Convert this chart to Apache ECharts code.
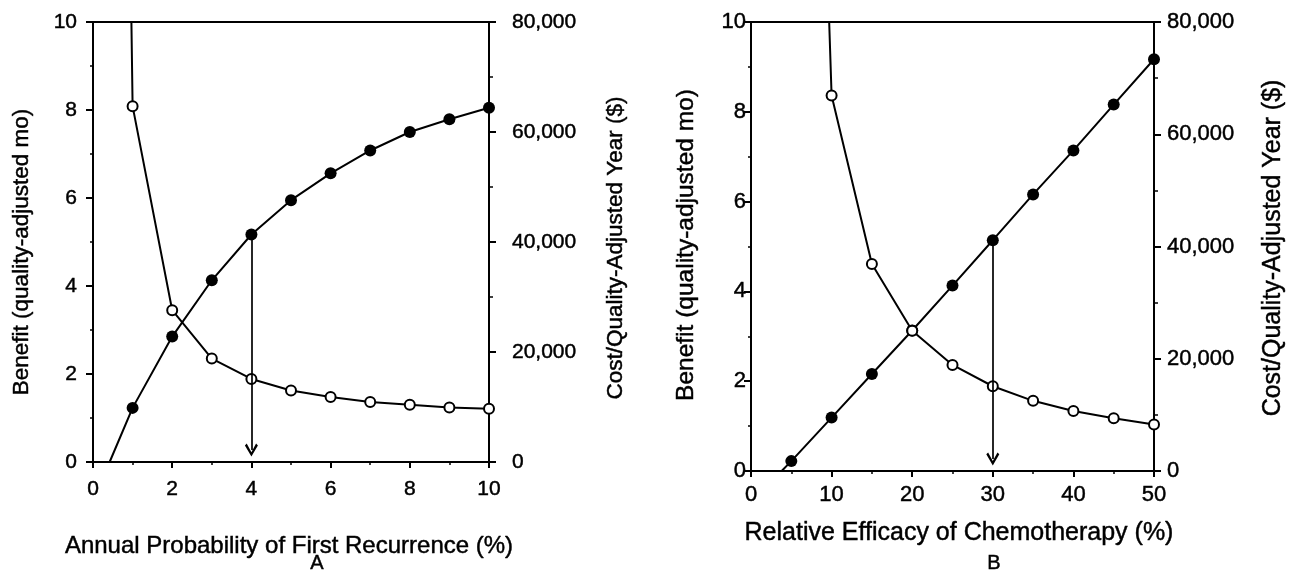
<!DOCTYPE html>
<html>
<head>
<meta charset="utf-8">
<script src="https://cdn.jsdelivr.net/npm/echarts@6/dist/echarts.min.js"></script>
<style>
html,body{margin:0;padding:0;background:#fff;}
#chart{width:1292px;height:572px;}
</style>
</head>
<body>
<div id="chart"></div>
<script>
// ---------- Data ----------
// Panel A: Annual probability of first recurrence (%)
var xA = [1, 2, 3, 4, 5, 6, 7, 8, 9, 10];
var benefitA = [1.23, 2.85, 4.13, 5.17, 5.95, 6.56, 7.08, 7.50, 7.79, 8.05];      // quality-adjusted mo
var costA = [64700, 27600, 18800, 15100, 13000, 11800, 10900, 10400, 9900, 9700]; // $ per QALY
var benefitAStart = [0.42, 0];      // where the benefit line leaves the x axis
var costALead = [0.97, 80000];      // cost line runs off the top of the scale
var arrowXA = 4;

// Panel B: Relative efficacy of chemotherapy (%)
var xB = [5, 10, 15, 20, 25, 30, 35, 40, 45, 50];
var benefitB = [0.22, 1.19, 2.16, 3.13, 4.13, 5.14, 6.16, 7.14, 8.16, 9.17];
var xBcost = [10, 15, 20, 25, 30, 35, 40, 45, 50];
var costB = [66900, 36900, 25000, 18900, 15100, 12500, 10700, 9400, 8300];
var benefitBStart = [3.8, 0];
var costBLead = [9.7, 80000];
var arrowXB = 30;
var arrowTipValue = 0.27;

var titleX_A = 'Annual Probability of First Recurrence (%)';
var titleX_B = 'Relative Efficacy of Chemotherapy (%)';
var titleYL = 'Benefit (quality-adjusted mo)';
var titleYR = 'Cost/Quality-Adjusted Year ($)';
var panelLabels = ['A', 'B'];

// ---------- Helpers ----------
var FONT = 'Liberation Sans, Arial, Helvetica, sans-serif';
var TB = 0.45; // slight text stroke to match the heavier scanned type
function commas(v) { return String(v).replace(/\B(?=(\d{3})+(?!\d))/g, ','); }
function zip(xs, ys) { return xs.map(function (x, i) { return [x, ys[i]]; }); }
var arrowPath = 'path://M50,0 L100,86 L86,100 L50,34 L14,100 L0,86 Z';

function leadData(first, xs, ys) {
  return [{ value: first, symbol: 'none' }].concat(zip(xs, ys));
}
function valueAt(xs, ys, x) { return ys[xs.indexOf(x)]; }
function labelStyle(size, margin, fmt) {
  var s = { fontFamily: FONT, fontSize: size, color: '#000', margin: margin,
            textBorderColor: '#000', textBorderWidth: TB };
  if (fmt) s.formatter = fmt;
  return s;
}
var tickStyle = { color: '#000', width: 2 };
var minorStyle = { color: '#000', width: 1.5 };

function xAxisCfg(gi, max, interval, size, margin) {
  return {
    gridIndex: gi, type: 'value', min: 0, max: max, interval: interval,
    axisLine: { show: true, onZero: false, lineStyle: { color: '#000', width: 2 } },
    axisTick: { show: true, length: 6, lineStyle: tickStyle },
    minorTick: { show: true, splitNumber: 2, length: 3, lineStyle: minorStyle },
    axisLabel: labelStyle(size, margin),
    splitLine: { show: false }
  };
}
function yLeftCfg(gi, size, margin) {
  return {
    gridIndex: gi, type: 'value', position: 'left', min: 0, max: 10, interval: 2,
    axisLine: { show: true, onZero: false, lineStyle: { color: '#000', width: 2 } },
    axisTick: { show: true, length: 7, lineStyle: tickStyle },
    minorTick: { show: true, splitNumber: 2, length: 3, lineStyle: minorStyle },
    axisLabel: labelStyle(size, margin),
    splitLine: { show: false }
  };
}
function yRightCfg(gi, size, margin) {
  return {
    gridIndex: gi, type: 'value', position: 'right', min: 0, max: 80000, interval: 20000,
    axisLine: { show: true, onZero: false, lineStyle: { color: '#000', width: 2 } },
    axisTick: { show: true, length: 7, lineStyle: tickStyle },
    minorTick: { show: true, splitNumber: 2, length: 4, lineStyle: minorStyle },
    axisLabel: labelStyle(size, margin, commas),
    splitLine: { show: false }
  };
}
function arrowMark(x, y0) {
  return {
    silent: true, animation: false,
    symbol: ['none', arrowPath], symbolSize: [13, 13],
    label: { show: false },
    emphasis: { disabled: true },
    lineStyle: { color: '#000', width: 1.7, type: 'solid' },
    itemStyle: { color: '#000' },
    data: [[{ coord: [x, y0] }, { coord: [x, arrowTipValue] }]]
  };
}
var filledStyle = {
  type: 'line', symbol: 'circle', symbolSize: 12, showSymbol: true,
  lineStyle: { color: '#000', width: 2 }, itemStyle: { color: '#000' },
  z: 3, animation: false
};
var openStyle = {
  type: 'line', symbol: 'circle', symbolSize: 10, showSymbol: true,
  lineStyle: { color: '#000', width: 2 },
  itemStyle: { color: '#fff', borderColor: '#000', borderWidth: 2 },
  z: 4, animation: false
};
function textEl(str, x, y, size, rot) {
  return {
    type: 'text', x: x, y: y, rotation: rot || 0, z: 10,
    style: { text: str, font: size + 'px ' + FONT, fill: '#000',
             stroke: '#000', lineWidth: TB,
             align: 'center', verticalAlign: 'middle' }
  };
}

var option = {
  backgroundColor: '#fff',
  animation: false,
  grid: [
    { left: 93, top: 22, width: 396, height: 440, show: true, borderColor: '#000', borderWidth: 2, backgroundColor: 'transparent' },
    { left: 751, top: 22, width: 403, height: 449, show: true, borderColor: '#000', borderWidth: 2, backgroundColor: 'transparent' }
  ],
  xAxis: [
    xAxisCfg(0, 10, 2, 21, 17),
    xAxisCfg(1, 50, 10, 22, 13)
  ],
  yAxis: [
    yLeftCfg(0, 21, 16),
    yRightCfg(0, 21, 23),
    yLeftCfg(1, 22, 5),
    yRightCfg(1, 22, 13)
  ],
  series: [
    Object.assign({}, filledStyle, {
      xAxisIndex: 0, yAxisIndex: 0,
      data: leadData(benefitAStart, xA, benefitA),
      markLine: arrowMark(arrowXA, valueAt(xA, benefitA, arrowXA))
    }),
    Object.assign({}, openStyle, {
      xAxisIndex: 0, yAxisIndex: 1,
      data: leadData(costALead, xA, costA)
    }),
    Object.assign({}, filledStyle, {
      xAxisIndex: 1, yAxisIndex: 2,
      data: leadData(benefitBStart, xB, benefitB),
      markLine: arrowMark(arrowXB, valueAt(xB, benefitB, arrowXB))
    }),
    Object.assign({}, openStyle, {
      xAxisIndex: 1, yAxisIndex: 3,
      data: leadData(costBLead, xBcost, costB)
    })
  ],
  graphic: [
    textEl(titleX_A, 289, 546, 24),
    textEl(titleX_B, 959, 533, 25),
    textEl(titleYL, 22, 252, 22.5, Math.PI / 2),
    textEl(titleYR, 616, 248, 22.5, Math.PI / 2),
    textEl(titleYL, 686, 245, 24.5, Math.PI / 2),
    textEl(titleYR, 1273, 248, 25, Math.PI / 2),
    textEl(panelLabels[0], 317, 563, 20),
    textEl(panelLabels[1], 994, 563, 20)
  ]
};

var chart = echarts.init(document.getElementById('chart'), null, { renderer: 'canvas' });
chart.setOption(option);
</script>
</body>
</html>
